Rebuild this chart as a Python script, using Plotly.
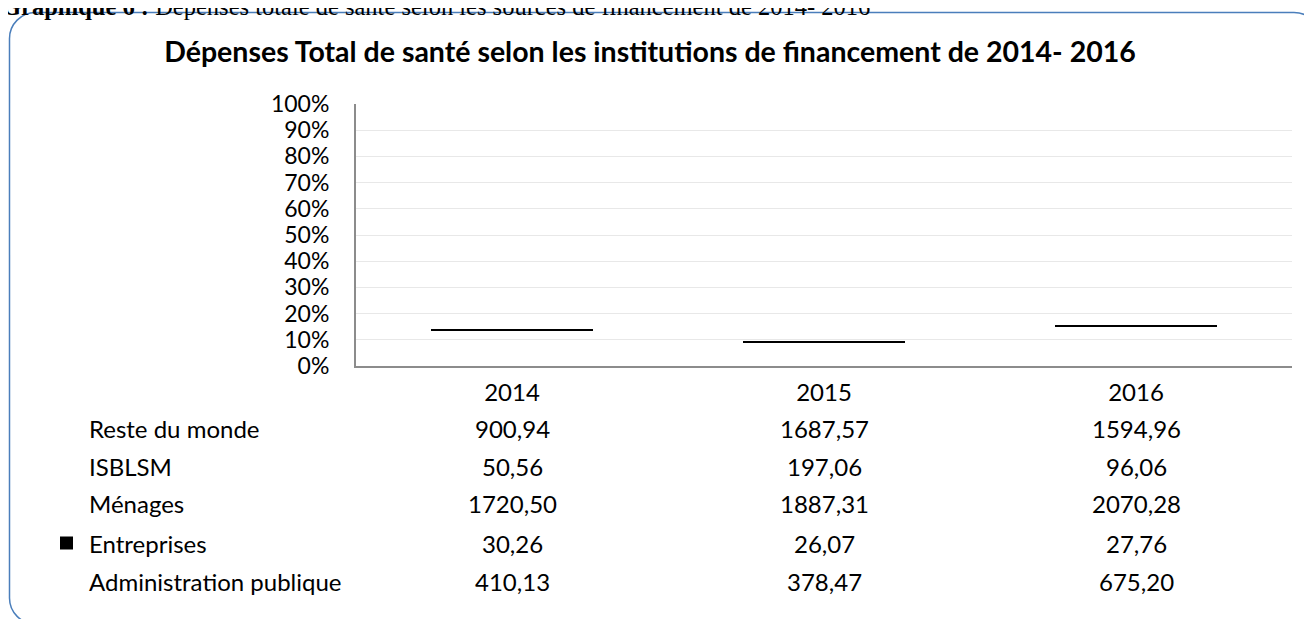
import plotly.graph_objects as go

# ---------------- data ----------------
years = ["2014", "2015", "2016"]
series_names = ["Reste du monde", "ISBLSM", "Ménages", "Entreprises", "Administration publique"]
reste_du_monde = [900.94, 1687.57, 1594.96]
isblsm = [50.56, 197.06, 96.06]
menages = [1720.50, 1887.31, 2070.28]
entreprises = [30.26, 26.07, 27.76]
administration = [410.13, 378.47, 675.20]
y_ticks = [0, 0.1, 0.2, 0.3, 0.4, 0.5, 0.6, 0.7, 0.8, 0.9, 1.0]

title_text = "Dépenses Total de santé selon les institutions de financement de 2014- 2016"
caption_text = "<b>Graphique 6 :</b> Dépenses totale de santé selon les sources de financement de 2014- 2016"

# ---------------- layout constants (screen pixels) ----------------
OFF = 8                      # page body margin
W, H = 1312 - OFF, 619 - OFF
PLOT_L, PLOT_R, PLOT_T, PLOT_B = 356, 1292, 104, 366   # screen coords
ML, MT = PLOT_L - OFF, PLOT_T - OFF
MR, MB = W - (PLOT_R - OFF), H - (PLOT_B - OFF)
PW, PH = PLOT_R - PLOT_L, PLOT_B - PLOT_T
FONT = "Lato"
FS = 24


def px(xs):
    return (xs - PLOT_L) / PW


def py(ys):
    return (PLOT_B - ys) / PH


series_values = {
    "Reste du monde": reste_du_monde,
    "ISBLSM": isblsm,
    "Ménages": menages,
    "Entreprises": entreprises,
    "Administration publique": administration,
}
colors = {
    "Reste du monde": "rgba(0,0,0,0)",
    "ISBLSM": "rgba(0,0,0,0)",
    "Ménages": "rgba(0,0,0,0)",
    "Entreprises": "#000000",
    "Administration publique": "rgba(0,0,0,0)",
}

fig = go.Figure()
for name in ["Administration publique", "Entreprises", "Ménages", "ISBLSM", "Reste du monde"]:
    fig.add_trace(go.Bar(
        x=years, y=series_values[name], name=name,
        marker=dict(color=colors[name], line=dict(width=0)),
        showlegend=False, hoverinfo="skip",
    ))

fig.update_layout(
    width=W, height=H,
    margin=dict(l=ML, r=MR, t=MT, b=MB, autoexpand=False),
    barmode="stack", barnorm="fraction", bargap=0.48,
    paper_bgcolor="white", plot_bgcolor="white",
    font=dict(family=FONT, size=FS, color="black"),
    title=dict(text="<b>" + title_text + "</b>", x=(650 - OFF) / W, xanchor="center",
               y=1 - (52 - OFF) / H, yanchor="middle",
               font=dict(family=FONT, size=28.5, color="black")),
    hovermode=False,
)
fig.update_yaxes(
    range=[0, 1], tickvals=y_ticks, tickformat=".0%",
    showgrid=True, gridcolor="#e8e8e8", gridwidth=1,
    showline=True, linecolor="#8c8c8c", linewidth=2,
    ticks="", ticklabelstandoff=20, zeroline=False,
    tickfont=dict(family=FONT, size=23, color="black"),
)
fig.update_xaxes(
    type="category", range=[-0.5, len(years) - 0.5],
    showline=True, linecolor="#8c8c8c", linewidth=2,
    ticks="", ticklabelstandoff=4, showgrid=False,
    tickfont=dict(family=FONT, size=FS, color="black"),
)

# data table below the chart
row_y = [428, 466, 504, 543, 581]
for name, ry in zip(series_names, row_y):
    fig.add_annotation(text=name, xref="paper", yref="paper", x=px(87), y=py(ry),
                       xanchor="left", yanchor="middle", showarrow=False,
                       font=dict(family=FONT, size=FS, color="black"))
    for i, v in enumerate(series_values[name]):
        fig.add_annotation(text=f"{v:.2f}".replace(".", ","), xref="x", yref="paper",
                           x=i, y=py(ry), xanchor="center", yanchor="middle",
                           showarrow=False, font=dict(family=FONT, size=FS, color="black"))

# legend key for Entreprises
ky = row_y[series_names.index("Entreprises")]
fig.add_shape(type="rect", xref="paper", yref="paper",
              x0=px(60), x1=px(73), y0=py(ky + 6.5), y1=py(ky - 6.5),
              fillcolor="black", line=dict(width=0))

# rounded frame
fl, ft, fr, fb, rr = 9.5, 12.5, 1320, 624, 26
k = 0.45
path = (
    f"M {px(fl + rr)},{py(ft)} L {px(fr - rr)},{py(ft)} "
    f"C {px(fr - rr * k)},{py(ft)} {px(fr)},{py(ft + rr * k)} {px(fr)},{py(ft + rr)} "
    f"L {px(fr)},{py(fb - rr)} "
    f"C {px(fr)},{py(fb - rr * k)} {px(fr - rr * k)},{py(fb)} {px(fr - rr)},{py(fb)} "
    f"L {px(fl + rr)},{py(fb)} "
    f"C {px(fl + rr * k)},{py(fb)} {px(fl)},{py(fb - rr * k)} {px(fl)},{py(fb - rr)} "
    f"L {px(fl)},{py(ft + rr)} "
    f"C {px(fl)},{py(ft + rr * k)} {px(fl + rr * k)},{py(ft)} {px(fl + rr)},{py(ft)} Z"
)
fig.add_shape(type="path", xref="paper", yref="paper", path=path,
              line=dict(color="#4a7ebb", width=1.5), fillcolor="rgba(0,0,0,0)", layer="below")

# caption above (cut by the page top)
fig.add_annotation(text=caption_text, xref="paper", yref="paper", x=px(0), y=py(22),
                   xanchor="left", yanchor="bottom", showarrow=False,
                   font=dict(family="Liberation Serif", size=24.5, color="black"))

fig.write_html("out.html")
